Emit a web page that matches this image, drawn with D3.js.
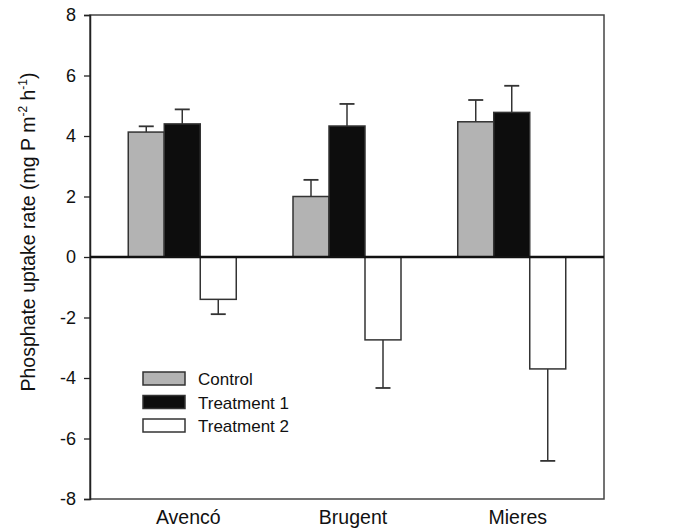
<!DOCTYPE html>
<html>
<head>
<meta charset="utf-8">
<script src="https://cdn.jsdelivr.net/npm/d3@7"></script>
<style>
  body { margin: 0; background: #fff; }
  text { font-family: Arial, "Liberation Sans", sans-serif; fill: #111; }
</style>
</head>
<body>
<div id="chart"></div>
<script>
var margin = { top: 15, right: 72, bottom: 29, left: 90 },
	width = 676 - margin.left - margin.right,
	height = 528 - margin.top - margin.bottom;

const SITES = ["Avencó", "Brugent", "Mieres"];
const SERIES = ["Control", "Treatment 1", "Treatment 2"];
const CONTROL = [4.13, 2.0, 4.47];
const TREATMENT_1 = [4.4, 4.33, 4.78];
const TREATMENT_2 = [-1.4, -2.74, -3.7];
const CONTROL_ERR = [0.19, 0.55, 0.72];
const TREATMENT_1_ERR = [0.48, 0.73, 0.88];
const TREATMENT_2_ERR = [0.49, 1.59, 3.04];
const Y_TICKS = [-8, -6, -4, -2, 0, 2, 4, 6, 8];

var colors = ["#b3b3b3", "#0d0d0d", "#ffffff"];
var values = [CONTROL, TREATMENT_1, TREATMENT_2];
var errors = [CONTROL_ERR, TREATMENT_1_ERR, TREATMENT_2_ERR];

var data = [];
SITES.forEach(function (site, i) {
	SERIES.forEach(function (s, j) {
		data.push({ site: site, series: s, value: values[j][i], err: errors[j][i], color: colors[j] });
	});
});

var svg = d3
	.select("#chart")
	.append("svg")
	.attr("width", 676)
	.attr("height", 528)
	.append("g")
	.attr("transform", "translate(" + margin.left + "," + margin.top + ")");

var y = d3.scaleLinear().domain([-8, 8]).range([height, 0]);
var x = d3.scalePoint().domain(SITES).range([0, width]).padding(0.56);
var xs = d3.scaleBand().domain(SERIES).range([-54, 54]).paddingInner(0);

// frame
svg
	.append("rect")
	.attr("width", width)
	.attr("height", height)
	.attr("fill", "none")
	.attr("stroke", "#444")
	.attr("stroke-width", 1.5);

// y axis
var yAxis = svg
	.append("g")
	.call(
		d3.axisLeft(y).tickValues(Y_TICKS).tickSize(6).tickPadding(8).tickFormat(function (d) {
			return String(d);
		})
	);
yAxis.select(".domain").attr("stroke", "#222").attr("stroke-width", 1.5);
yAxis.selectAll(".tick line").attr("stroke", "#222").attr("stroke-width", 1.3);
yAxis.selectAll("text").style("font-size", "18px").style("font-family", "Arial, 'Liberation Sans', sans-serif").attr("fill", "#111");

// x labels
svg
	.selectAll(".xlab")
	.data(SITES)
	.enter()
	.append("text")
	.attr("x", function (d) {
		return x(d) + 6;
	})
	.attr("y", height + 25)
	.attr("text-anchor", "middle")
	.style("font-size", "19.5px")
	.text(function (d) {
		return d;
	});

// y title
var title = svg
	.append("text")
	.attr("transform", "translate(-55," + (y(0) - 25) + ") rotate(-90)")
	.attr("text-anchor", "middle")
	.style("font-size", "19.5px");
title.append("tspan").text("Phosphate uptake rate (mg P m");
title.append("tspan").attr("dy", -8).style("font-size", "12px").text("-2");
title.append("tspan").attr("dy", 8).text(" h");
title.append("tspan").attr("dy", -8).style("font-size", "12px").text("-1");
title.append("tspan").attr("dy", 8).text(")");

// error bars
var eb = svg.selectAll(".err").data(data).enter().append("g");
function bx(d) {
	return x(d.site) + xs(d.series) + xs.bandwidth() / 2;
}
function tip(d) {
	return d.value >= 0 ? d.value + d.err : d.value - d.err;
}
eb.append("line")
	.attr("x1", bx)
	.attr("x2", bx)
	.attr("y1", function (d) { return y(d.value); })
	.attr("y2", function (d) { return y(tip(d)); })
	.attr("stroke", "#333")
	.attr("stroke-width", 1.5);
eb.append("line")
	.attr("x1", function (d) { return bx(d) - 7.5; })
	.attr("x2", function (d) { return bx(d) + 7.5; })
	.attr("y1", function (d) { return y(tip(d)); })
	.attr("y2", function (d) { return y(tip(d)); })
	.attr("stroke", "#333")
	.attr("stroke-width", 1.8);

// bars
svg
	.selectAll(".bar")
	.data(data)
	.enter()
	.append("rect")
	.attr("x", function (d) {
		return x(d.site) + xs(d.series);
	})
	.attr("y", function (d) {
		return y(Math.max(0, d.value));
	})
	.attr("width", xs.bandwidth())
	.attr("height", function (d) {
		return Math.abs(y(d.value) - y(0));
	})
	.attr("fill", function (d) {
		return d.color;
	})
	.attr("stroke", "#333")
	.attr("stroke-width", 1.5);

// zero line
svg
	.append("line")
	.attr("x1", 0)
	.attr("x2", width)
	.attr("y1", y(0))
	.attr("y2", y(0))
	.attr("stroke", "#111")
	.attr("stroke-width", 2.5);

// legend
var legend = svg
	.selectAll(".leg")
	.data(SERIES)
	.enter()
	.append("g")
	.attr("transform", function (d, i) {
		return "translate(53," + (357 + i * 23.5) + ")";
	});
legend
	.append("rect")
	.attr("width", 42)
	.attr("height", 13)
	.attr("fill", function (d, i) {
		return colors[i];
	})
	.attr("stroke", "#333")
	.attr("stroke-width", 1.5);
legend
	.append("text")
	.attr("x", 55)
	.attr("y", 13)
	.style("font-size", "17px")
	.text(function (d) {
		return d;
	});
</script>
</body>
</html>
